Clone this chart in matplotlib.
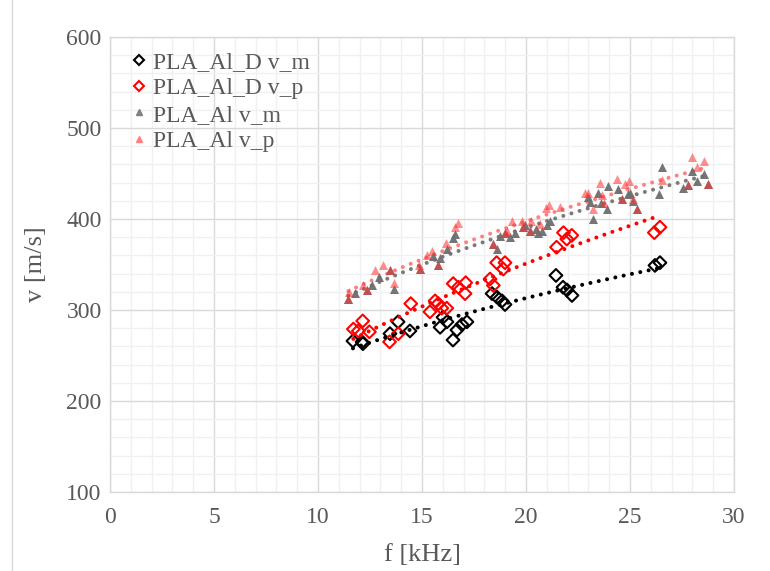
import matplotlib
matplotlib.use("Agg")
import matplotlib.pyplot as plt
from matplotlib.lines import Line2D
import numpy as np

plt.rcParams['font.family'] = ['Liberation Serif', 'DejaVu Serif']

# PLA_Al_D v_m  (f [kHz], v [m/s])
d_vm_f = [11.68, 12.12, 12.16, 13.46, 13.85, 14.42, 15.87, 16.01, 16.20, 16.49, 16.68, 16.92,
          17.16, 18.37, 18.61, 18.85, 18.99, 21.44, 21.78, 21.97, 22.21, 26.20, 26.44]
d_vm_v = [266, 265, 263, 274, 287, 277, 281, 292, 287, 267, 278, 284,
          287, 318, 314, 310, 306, 338, 325, 322, 316, 349, 352]

# PLA_Al_D v_p
d_vp_f = [11.70, 11.94, 12.15, 12.47, 13.44, 13.86, 14.46, 15.38, 15.63, 15.78, 15.95, 16.19,
          16.50, 16.75, 17.10, 17.07, 18.27, 18.43, 18.59, 18.91, 18.99, 21.47, 21.80, 21.96,
          22.20, 26.17, 26.44]
d_vp_v = [279, 277, 288, 276, 265, 274, 307, 298, 310, 307, 302, 302,
          329, 325, 330, 318, 334, 327, 352, 345, 352, 369, 385, 378,
          382, 385, 391]

# PLA_Al v_m
al_vm_f = [11.46, 11.78, 12.37, 12.58, 12.95, 13.46, 13.65, 14.90, 15.54, 15.78, 15.85, 16.18,
           16.50, 16.59, 18.43, 18.62, 18.75, 18.99, 19.23, 19.47, 19.87, 19.95, 20.19, 20.50,
           20.60, 20.75, 21.00, 21.15, 23.00, 23.08, 23.24, 23.48, 23.59, 23.88, 23.96, 24.44,
           24.60, 24.92, 25.00, 25.16, 25.36, 26.40, 26.55, 27.56, 27.80, 27.96, 28.20, 28.57,
           28.76]
al_vm_v = [312, 319, 322, 328, 336, 344, 323, 345, 359, 349, 357, 367,
           379, 383, 372, 367, 381, 385, 380, 385, 391, 393, 387, 389,
           385, 387, 393, 398, 424, 419, 400, 429, 418, 411, 436, 433,
           422, 428, 429, 420, 411, 427, 457, 434, 437, 453, 442, 450,
           438]

# PLA_Al v_p
al_vp_f = [11.46, 11.50, 12.14, 12.37, 12.74, 13.11, 13.46, 13.65, 14.87, 14.90, 15.26, 15.46,
           15.78, 16.15, 16.60, 16.75, 18.43, 18.99, 19.07, 19.31, 19.79, 19.87, 20.19, 20.25,
           20.67, 20.96, 21.12, 21.63, 22.84, 23.00, 23.24, 23.56, 23.64, 23.75, 24.36, 24.60,
           24.76, 24.95, 25.16, 25.36, 26.55, 27.80, 27.96, 28.20, 28.57, 28.76]
al_vp_v = [312, 320, 328, 322, 344, 350, 344, 330, 350, 345, 360, 365,
           349, 374, 391, 396, 372, 385, 387, 398, 398, 391, 387, 398,
           394, 412, 415, 413, 429, 429, 411, 440, 426, 418, 444, 422,
           438, 442, 422, 411, 443, 437, 468, 457, 464, 438]

labels = ['PLA_Al_D v_m', 'PLA_Al_D v_p', 'PLA_Al v_m', 'PLA_Al v_p']
text_color = '#595959'

fig = plt.figure(figsize=(7.7, 5.71), dpi=100)
ax = fig.add_axes([110 / 770, 1 - 492 / 571, 624 / 770, 455 / 571])

# grid
ax.set_xlim(0, 30)
ax.set_ylim(100, 600)
ax.set_xticks(np.arange(0, 31, 5))
ax.set_yticks(np.arange(100, 601, 100))
ax.set_xticks(np.arange(0, 31, 1), minor=True)
ax.set_yticks(np.arange(100, 601, 20), minor=True)
ax.grid(which='minor', color='#f0f0f0', linewidth=1.0, zorder=0)
ax.grid(which='major', color='#d9d9d9', linewidth=1.0, zorder=0)
ax.set_axisbelow(True)
for s in ax.spines.values():
    s.set_color('#d9d9d9')
    s.set_linewidth(1.0)
ax.tick_params(which='both', length=0, labelsize=17, colors=text_color)
ax.tick_params(axis='x', pad=11)
ax.tick_params(axis='y', pad=6)


def trend(f, v, color, alpha=1.0):
    # power trendline, v = a * f^b
    b, lna = np.polyfit(np.log(f), np.log(v), 1)
    xs = np.linspace(min(f), max(f), 50)
    ax.plot(xs, np.exp(lna) * xs ** b, linestyle=(0, (0.01, 2.1)), dash_capstyle='round',
            linewidth=2.9, color=color, alpha=alpha, zorder=4)


ax.scatter(d_vm_f, d_vm_v, marker='D', s=42, facecolors='none', edgecolors='black',
           linewidths=1.5, zorder=3)
trend(d_vm_f, d_vm_v, 'black')
ax.scatter(d_vp_f, d_vp_v, marker='D', s=42, facecolors='none', edgecolors='red',
           linewidths=1.5, zorder=3)
trend(d_vp_f, d_vp_v, 'red')
ax.scatter(al_vm_f, al_vm_v, marker='^', s=42, color='#6e6e6e', alpha=0.95,
           linewidths=0, zorder=5)
trend(al_vm_f, al_vm_v, '#7a7a7a')
ax.scatter(al_vp_f, al_vp_v, marker='^', s=42, color='#ff3030', alpha=0.55,
           linewidths=0, zorder=6)
trend(al_vp_f, al_vp_v, '#ff8080')

ax.set_xlabel('f [kHz]', fontsize=19, color=text_color, labelpad=11)
ax.set_ylabel('v [m/s]', fontsize=19, color=text_color, labelpad=14)

handles = [
    Line2D([], [], linestyle='none', marker='D', markersize=5.5, markerfacecolor='none',
           markeredgecolor='black', markeredgewidth=1.5),
    Line2D([], [], linestyle='none', marker='D', markersize=5.5, markerfacecolor='none',
           markeredgecolor='red', markeredgewidth=1.5),
    Line2D([], [], linestyle='none', marker='^', markersize=5, color='#808080'),
    Line2D([], [], linestyle='none', marker='^', markersize=5, color='#ff8080'),
]
leg = ax.legend(handles, labels, loc='upper left', bbox_to_anchor=(0.035, 0.968),
                frameon=False, fontsize=17, handlelength=0.6, handletextpad=0.3,
                labelspacing=0.2, borderaxespad=0, borderpad=0)
for t in leg.get_texts():
    t.set_color(text_color)

fig.add_artist(Line2D([12 / 770, 12 / 770], [0, 1], color='#d9d9d9', linewidth=1.0))

fig.savefig('out.png', dpi=100)
